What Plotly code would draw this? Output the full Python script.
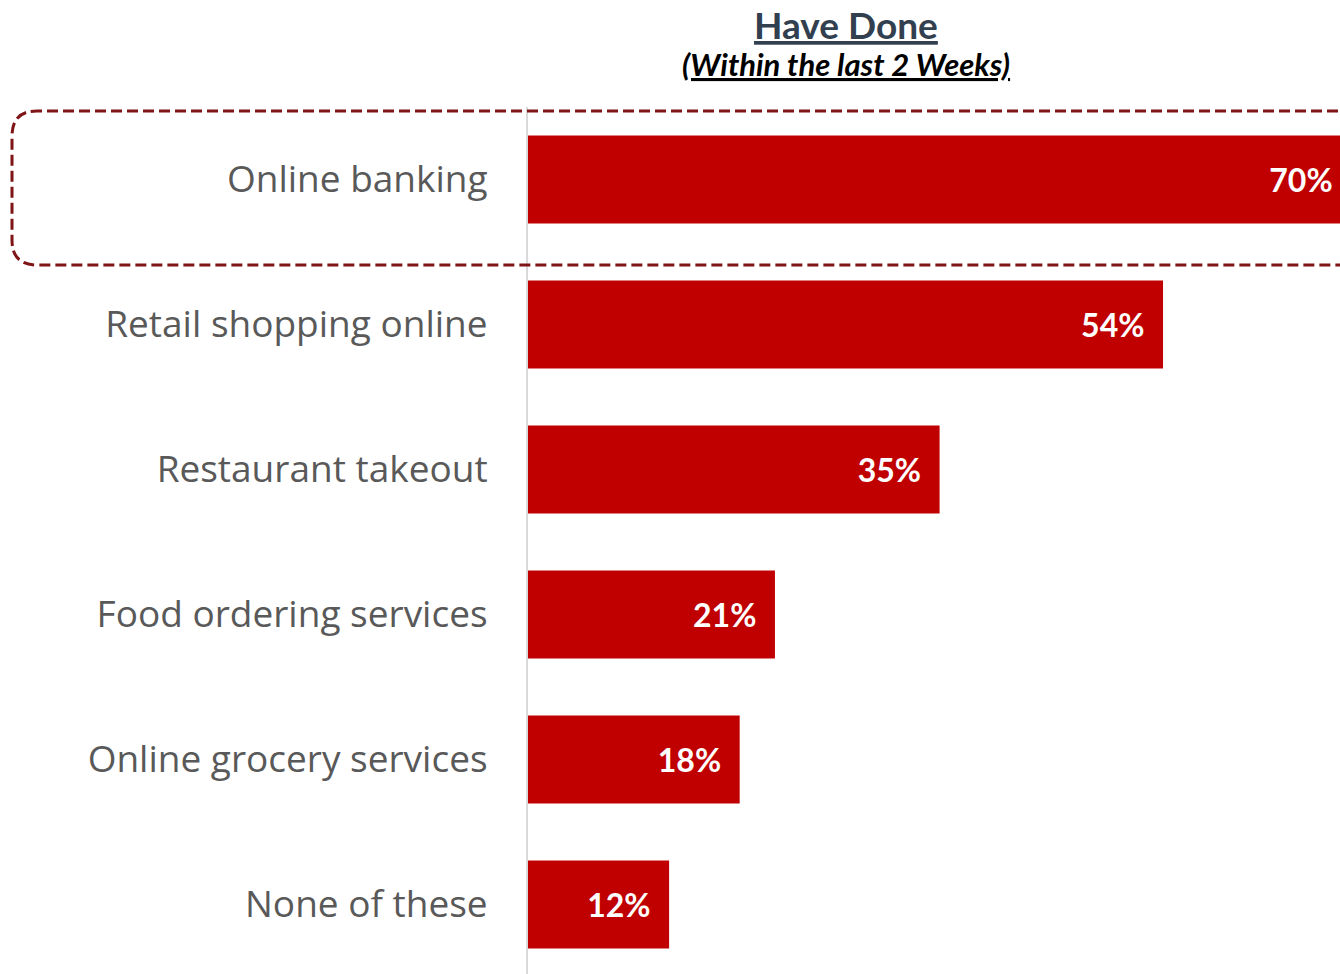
import plotly.graph_objects as go

# Survey data: share of respondents who have done each activity
categories = [
    "Online banking",
    "Retail shopping online",
    "Restaurant takeout",
    "Food ordering services",
    "Online grocery services",
    "None of these",
]
values = [70, 54, 35, 21, 18, 12]
value_labels = [f"{v}%" for v in values]

BAR_COLOR = "#C00000"
LABEL_GRAY = "#595959"
BOX_COLOR = "#7F1416"

W, H = 1340, 974
M_L, M_R, M_T, M_B = 528, 0, 107, 0
X_MAX = 69.05
ROW_PX = 145

pw = W - M_L - M_R
ph = H - M_T - M_B

# bar labels sit inside the bar end; trailing no-break spaces pad them in
fig = go.Figure(
    go.Bar(
        x=values,
        y=categories,
        orientation="h",
        marker=dict(color=BAR_COLOR, line=dict(width=0)),
        text=[t + "\u00a0\u00a0" for t in value_labels],
        textposition="inside",
        insidetextanchor="end",
        textangle=0,
        textfont=dict(family="Lato", size=32, color="white", weight="bold"),
        hoverinfo="skip",
    )
)


def px_x(p):
    return (p - M_L) / pw


def px_y(p):
    return 1 - (p - M_T) / ph


# dashed rounded box highlighting the top row
left, right, top, bot = px_x(12), px_x(1370), px_y(111), px_y(265)
rx, ry = 25 / pw, 25 / ph
box_path = (
    f"M {right},{top} L {left + rx},{top} Q {left},{top} {left},{top - ry} "
    f"L {left},{bot + ry} Q {left},{bot} {left + rx},{bot} L {right},{bot} Z"
)

fig.update_layout(
    width=W,
    height=H,
    margin=dict(l=M_L, r=M_R, t=M_T, b=M_B, pad=0),
    paper_bgcolor="white",
    plot_bgcolor="white",
    showlegend=False,
    bargap=0.393,
    xaxis=dict(
        range=[0, X_MAX],
        visible=False,
        fixedrange=True,
    ),
    yaxis=dict(
        range=[-0.5 + ph / ROW_PX, -0.5],
        showline=True,
        linecolor="#D9D9D9",
        linewidth=2,
        showgrid=False,
        zeroline=False,
        ticks="",
        ticklabelstandoff=31,
        tickfont=dict(family="Open Sans", size=37, color=LABEL_GRAY),
        fixedrange=True,
    ),
    shapes=[
        dict(
            type="path",
            xref="paper",
            yref="paper",
            path=box_path,
            line=dict(color=BOX_COLOR, width=3, dash="11px,5px"),
            fillcolor="rgba(0,0,0,0)",
            layer="above",
        )
    ],
    annotations=[
        dict(
            text="<u>Have Done</u>",
            xref="paper",
            yref="paper",
            x=px_x(846),
            y=px_y(0),
            xanchor="center",
            yanchor="top",
            showarrow=False,
            font=dict(family="Lato", size=37, color="#323F4F", weight="bold"),
        ),
        dict(
            text="<u><i>(Within the last 2 Weeks)</i></u>",
            xref="paper",
            yref="paper",
            x=px_x(846),
            y=px_y(64),
            xanchor="center",
            yanchor="middle",
            showarrow=False,
            font=dict(family="Lato", size=31, color="#000000", weight="bold"),
        ),
    ],
)

fig.write_html("out.html")
